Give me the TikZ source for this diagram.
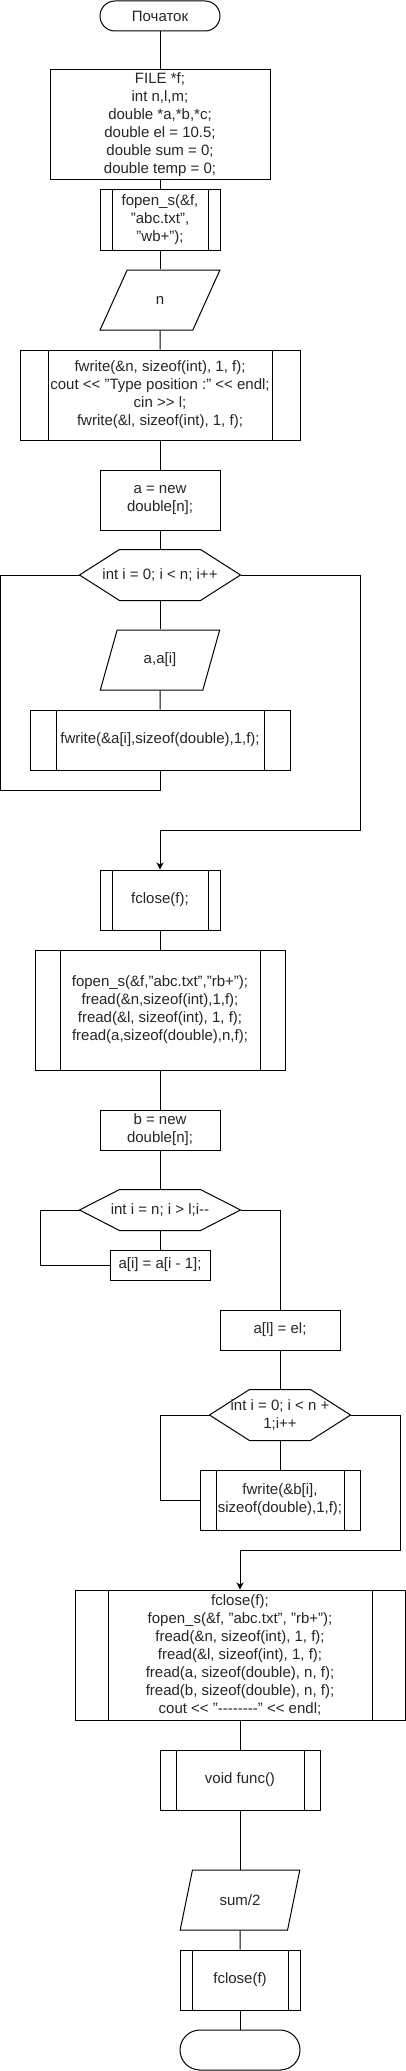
\documentclass[tikz,border=0pt]{standalone}
\usepackage{fontspec}
\setmainfont{Liberation Sans}
\usepackage{tikz}
\usetikzlibrary{shapes.geometric,calc,arrows.meta}

\begin{document}
\begin{tikzpicture}[x=1pt,y=-1pt,line width=1pt,-,hexcut/.store in=\hexcut,hexcut=40pt]
    \tikzstyle{block}=[rectangle,draw=black,fill=white,align=center,inner sep=1pt,text=black!85,font=\fontsize{15}{18}\selectfont]
    \tikzstyle{term}=[block,rounded corners=15pt,minimum width=120pt,minimum height=30pt]
    \tikzstyle{io}=[block,trapezium,trapezium left angle=67,trapezium right angle=113,trapezium stretches=true,minimum width=120pt,minimum height=60pt]
    \tikzstyle{sub}=[block,path picture={
            \draw ($(path picture bounding box.north west)!0.1!(path picture bounding box.north east)$) -- ($(path picture bounding box.south west)!0.1!(path picture bounding box.south east)$);
            \draw ($(path picture bounding box.north west)!0.9!(path picture bounding box.north east)$) -- ($(path picture bounding box.south west)!0.9!(path picture bounding box.south east)$);}]
    \tikzstyle{hex}=[align=center,inner sep=0pt,text=black!85,font=\fontsize{15}{18}\selectfont,
        append after command={\pgfextra{\draw (\tikzlastnode.west) -- ([xshift=\hexcut]\tikzlastnode.north west) -- ([xshift=-\hexcut]\tikzlastnode.north east) -- (\tikzlastnode.east) -- ([xshift=-\hexcut]\tikzlastnode.south east) -- ([xshift=\hexcut]\tikzlastnode.south west) -- cycle;}}]
    \tikzstyle{arr}=[-{Stealth[length=7pt,width=7pt,inset=2pt]}]

    \useasboundingbox (0,0) rectangle (406,2071);

    % first part: write the file
    \node[term] (start) at (160,16) {Початок};
    \node[block,minimum width=220pt,minimum height=110pt] (vars) at (160,125) {FILE *f;\\ int n,l,m;\\ double *a,*b,*c;\\ double el = 10.5;\\ double sum = 0;\\ double temp = 0;};
    \node[sub,minimum width=120pt,minimum height=60pt] (fopenw) at (160,220) {fopen\_s(\&f,\\ "abc.txt",\\ "wb+");};
    \node[io] (inn) at (160,300) {n};
    \node[sub,minimum width=280pt,minimum height=90pt] (fwriten) at (160,395) {fwrite(\&n, sizeof(int), 1, f);\\ cout <{}< "Type position :" <{}< endl;\\ cin >{}> l;\\ fwrite(\&l, sizeof(int), 1, f);};
    \node[block,minimum width=120pt,minimum height=60pt] (newa) at (160,500) {a = new\\ double[n];};
    \node[hex,minimum width=160pt,minimum height=50pt] (loopa) at (160,575) {int i = 0; i < n; i++};
    \node[io] (ina) at (160,660) {a,a[i]};
    \node[sub,minimum width=260pt,minimum height=60pt] (fwritea) at (160,740) {fwrite(\&a[i],sizeof(double),1,f);};
    \node[sub,minimum width=120pt,minimum height=60pt] (closea) at (160,900) {fclose(f);};

    % second part: insert el at position l
    \node[sub,minimum width=250pt,minimum height=120pt] (fopenr) at (160,1010) {fopen\_s(\&f,"abc.txt","rb+");\\ fread(\&n,sizeof(int),1,f);\\ fread(\&l, sizeof(int), 1, f);\\ fread(a,sizeof(double),n,f);};
    \node[block,minimum width=120pt,minimum height=40pt] (newb) at (160,1130) {b = new\\ double[n];};
    \node[hex,minimum width=160pt,minimum height=40pt] (loopb) at (160,1210) {int i = n; i > l;i-{}-};
    \node[block,minimum width=100pt,minimum height=30pt] (shift) at (160,1265) {a[i] = a[i - 1];};
    \node[block,minimum width=120pt,minimum height=40pt] (setel) at (280,1330) {a[l] = el;};
    \node[hex,hexcut=21pt,minimum width=140pt,minimum height=50pt] (loopc) at (280,1415) {int i = 0; i < n +\\ 1;i++};
    \node[sub,minimum width=160pt,minimum height=60pt] (fwriteb) at (280,1500) {fwrite(\&b[i],\\ sizeof(double),1,f);};

    % third part: read back and output
    \node[sub,minimum width=330pt,minimum height=130pt] (reopen) at (240,1655) {fclose(f);\\ fopen\_s(\&f, "abc.txt", "rb+");\\ fread(\&n, sizeof(int), 1, f);\\ fread(\&l, sizeof(int), 1, f);\\ fread(a, sizeof(double), n, f);\\ fread(b, sizeof(double), n, f);\\ cout <{}< "-{}-{}-{}-{}-{}-{}-{}-" <{}< endl;};
    \node[sub,minimum width=160pt,minimum height=60pt] (func) at (240,1780) {void func()};
    \node[io] (outsum) at (240,1900) {sum/2};
    \node[sub,minimum width=120pt,minimum height=60pt] (closef) at (240,1980) {fclose(f)};
    \node[term,rounded corners=20pt,minimum height=40pt] (stop) at (240,2050) {};

    \coordinate (backa) at (0.5,790);
    \coordinate (exita) at (360,830);
    \coordinate (backb) at (40,1265);
    \coordinate (backc) at (160,1500);
    \coordinate (exitc) at (400,1550);

    \foreach \from/\to in {start/vars, vars/fopenw, fopenw/inn, inn/fwriten, fwriten/newa, newa/loopa, loopa/ina, ina/fwritea,
            closea/fopenr, fopenr/newb, newb/loopb, loopb/shift, setel/loopc, loopc/fwriteb,
            reopen/func, func/outsum, outsum/closef, closef/stop}
        \draw (\from) -- (\to);

    \draw (fwritea.south) |- (backa) |- (loopa.west);
    \draw[arr] (loopa.east) -| (exita) -| (closea.north);
    \draw (shift.west) -- (backb) |- (loopb.west);
    \draw (loopb.east) -| (setel.north);
    \draw (fwriteb.west) -- (backc) |- (loopc.west);
    \draw[arr] (loopc.east) -| (exitc) -| (reopen.north);
\end{tikzpicture}
\end{document}
